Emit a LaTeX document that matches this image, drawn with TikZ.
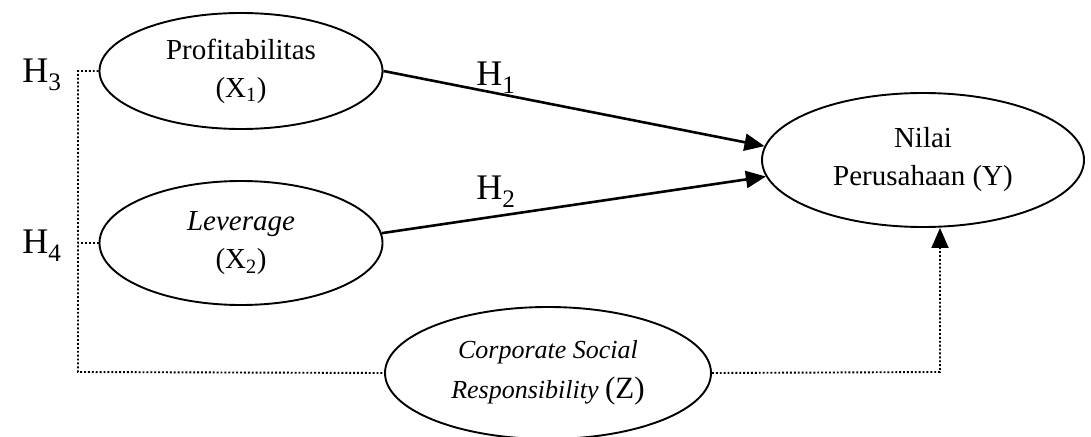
\documentclass[tikz,border=0pt]{standalone}
\usepackage{fontspec}
\setmainfont{Liberation Serif}
\usetikzlibrary{shapes.geometric,arrows.meta,calc}
\begin{document}
\begin{tikzpicture}[x=1pt,y=-1pt,
  var/.style={draw,ellipse,line width=1.9pt,inner sep=0pt,align=center,
    font=\fontsize{29}{38}\selectfont},
  hyp/.style={font=\fontsize{36}{40}\selectfont,inner sep=0pt},
  tip/.style={-{Triangle[length=20pt,width=17pt]}},
  solidarrow/.style={line width=2.6pt,tip},
  dotline/.style={line width=1.9pt,dotted}
]
\useasboundingbox (0,0) rectangle (1091,436);
\node[var,minimum width=283pt,minimum height=116pt] (prof) at (241,71)
  {Profitabilitas\\(X\textsubscript{1})};
\node[var,minimum width=283pt,minimum height=124pt] (lev) at (241,243)
  {\textit{Leverage}\\(X\textsubscript{2})};
\node[var,minimum width=322pt,minimum height=134pt] (nilai) at (923,160)
  {Nilai\\Perusahaan (Y)};
\node[var,minimum width=326pt,minimum height=132pt,font=\fontsize{26}{40}\selectfont] (csr) at (548,373)
  {\textit{Corporate Social}\\\textit{Responsibility} {\fontsize{31}{40}\selectfont(Z)}};
\node[hyp] (h3) at (42,75) {H\textsubscript{3}};
\node[hyp] (h4) at (42,246) {H\textsubscript{4}};
\node[hyp] (h1) at (496,78) {H\textsubscript{1}};
\node[hyp] (h2) at (496,192) {H\textsubscript{2}};
\draw[solidarrow] (prof.east) -- (nilai.175);
\draw[solidarrow] (lev.4) -- (nilai.186);
\coordinate (L) at (78,372);
\coordinate (R) at (940,372);
\coordinate (T) at (R |- nilai.south);
\coordinate (Tb) at ($(T)+(0,20)$);
\draw[dotline] (prof.west) -| (L) -- (csr.west);
\draw[dotline] (lev.west) -- (lev.west -| L);
\draw[dotline] (csr.east) -- (R) -- (Tb);
\draw[line width=1.9pt,tip] (Tb) -- (T);
\end{tikzpicture}
\end{document}
